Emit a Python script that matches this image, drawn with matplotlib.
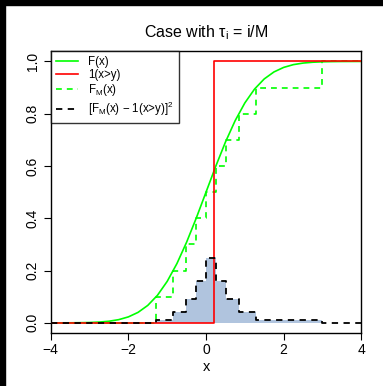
import numpy as np
import matplotlib.pyplot as plt

plt.rcParams['font.family'] = ['Liberation Sans', 'DejaVu Sans']
plt.rcParams['mathtext.fontset'] = 'custom'
plt.rcParams['mathtext.rm'] = 'Liberation Sans'
plt.rcParams['mathtext.it'] = 'Liberation Sans'
plt.rcParams['mathtext.default'] = 'regular'

# smooth CDF F(x), read at steps of 0.25
x_F = np.arange(-4, 4.001, 0.25)
F_vals = [0.0000, 0.0001, 0.0002, 0.0006, 0.0013, 0.0030, 0.0062, 0.0122,
          0.0228, 0.0401, 0.0668, 0.1056, 0.1587, 0.2266, 0.3085, 0.4013,
          0.5000, 0.5987, 0.6915, 0.7734, 0.8413, 0.8944, 0.9332, 0.9599,
          0.9772, 0.9878, 0.9938, 0.9970, 0.9987, 0.9994, 0.9998, 0.9999, 1.0000]

# observation y for indicator 1(x>y)
y_obs = 0.2

# step function F_M(x): jump locations and levels
q_M = [-1.28, -0.84, -0.52, -0.25, 0.0, 0.25, 0.52, 0.84, 1.28, 3.0]
lev_M = [0.1, 0.2, 0.3, 0.4, 0.5, 0.6, 0.7, 0.8, 0.9, 1.0]

# squared difference [F_M(x) - 1(x>y)]^2
x_sq = [-4, -1.28, -0.84, -0.52, -0.25, 0.0, 0.2, 0.25, 0.52, 0.84, 1.28, 3.0, 4]
sq_vals = [0.0, 0.01, 0.04, 0.09, 0.16, 0.25, 0.25, 0.16, 0.09, 0.04, 0.01, 0.0, 0.0]

fig = plt.figure(figsize=(3.83, 3.86), dpi=100)
ax = fig.add_axes([0.1324, 0.1365, 0.811, 0.7314])

# shaded area (between first and last jump)
xs_fill = np.array(x_sq[1:-1])
ys_fill = np.array(sq_vals[1:-1])
ax.fill_between(xs_fill, 0, ys_fill, step='post', color='#B0C4DE', lw=0, zorder=1)

ax.plot(x_F, F_vals, color='#00FF00', lw=1.2, label='F(x)', zorder=2)
ax.plot([-4, y_obs, y_obs, 4], [0, 0, 1, 1], color='#FF0000', lw=1.2,
        label='1(x>y)', zorder=3)
xs_M = [-4] + q_M + [4]
ys_M = [0.0] + lev_M + [1.0]
ax.step(xs_M, ys_M, where='post', color='#00FF00', lw=1.2, ls=(0, (3.5, 3)),
        label='$F_M$(x)', zorder=2)
ax.step(x_sq, sq_vals, where='post', color='black', lw=1.3, ls=(0, (3.5, 3)),
        label='[$F_M$(x) \u2212 1(x>y)]$^2$', zorder=4)

ax.set_xlim(-4, 4)
ax.set_ylim(-0.04, 1.04)
ax.set_xticks([-4, -2, 0, 2, 4])
ax.set_yticks([0, 0.2, 0.4, 0.6, 0.8, 1.0])
ax.set_yticklabels(['0.0', '0.2', '0.4', '0.6', '0.8', '1.0'], rotation=90, va='center')
ax.tick_params(length=5, width=0.8, labelsize=10, pad=2)
ax.tick_params(axis='y', pad=3)
for s in ax.spines.values():
    s.set_linewidth(1.0)
ax.set_xlabel('x', fontsize=10.5, labelpad=2)
ax.set_title(r'Case with $\tau_i$ = i/M', fontsize=11.5, pad=10)

leg = ax.legend(loc='upper left', borderaxespad=0, fontsize=8.3, frameon=True,
                fancybox=False, edgecolor='black', handlelength=1.9,
                handletextpad=0.9, labelspacing=0.1, borderpad=0.45)
leg.get_frame().set_linewidth(1.0)

# black strips along top and left edges
fig.patches.append(plt.Rectangle((0, 1 - 5 / 386), 1, 5 / 386, transform=fig.transFigure,
                                 color='black', zorder=10))
fig.patches.append(plt.Rectangle((0, 0), 5 / 383, 1, transform=fig.transFigure,
                                 color='black', zorder=10))

fig.savefig('out.png', dpi=100)
